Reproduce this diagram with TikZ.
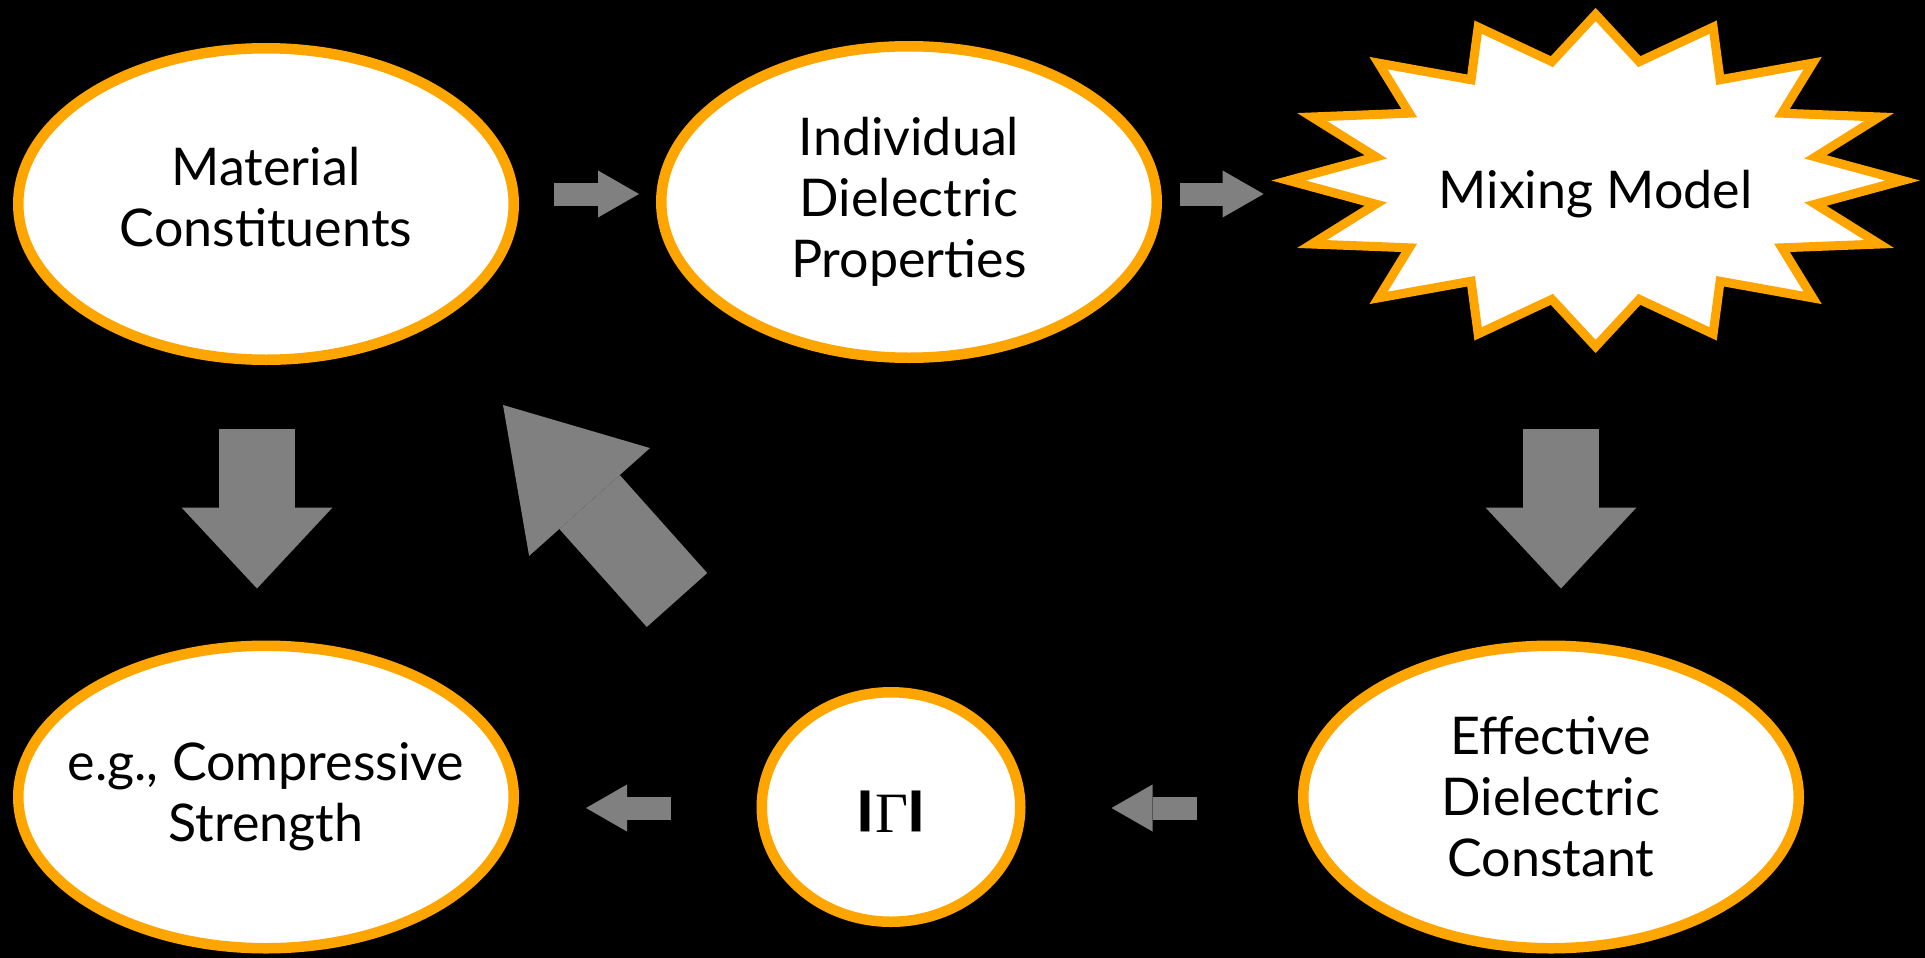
\documentclass[tikz,border=0pt]{standalone}
\usepackage{fontspec}
\setmainfont{Lato}
\newfontfamily\gfont{Liberation Serif}
\usetikzlibrary{shapes.geometric,arrows.meta,calc}
\definecolor{orng}{HTML}{FFA500}
\definecolor{arrgray}{HTML}{808080}
\newsavebox\barbox
\newcommand{\thickbar}{\sbox\barbox{\resizebox*{24pt}{41pt}{\bfseries|}}\raisebox{\dp\barbox}{\usebox\barbox}}
\tikzset{
  bub/.style={ellipse, draw=orng, line width=10.5pt, fill=white, inner ysep=0pt,
    inner xsep=-40pt, align=center, font=\fontsize{52pt}{61pt}\selectfont},
  bigbub/.style={bub, minimum width=495.5pt, minimum height=311.5pt},
  lowbub/.style={bub, minimum width=495.5pt, minimum height=302.5pt},
  smallblk/.style={draw=arrgray, line width=23pt,
    -{Triangle[length=41pt,width=47pt,line width=0pt]}},
  midblk/.style={draw=arrgray, line width=76pt,
    -{Triangle[length=81pt,width=151pt,line width=0pt]}},
  diagblk/.style={draw=arrgray, line width=81pt,
    -{Triangle[length=130pt,width=162pt,line width=0pt]}},
  starline/.style={draw=orng, line width=9pt, fill=white, miter limit=20}
}
\begin{document}
\begin{tikzpicture}[x=1pt,y=-1pt]
\fill[black] (0,0) rectangle (1925,958);
\useasboundingbox (0,0) rectangle (1925,958);

% starburst outline
\path[starline] ({1595.6+307*cos(90)},{180.5+166*sin(90)})
  \foreach \k in {0,...,14}{
    -- ({1595.6+0.73*307*cos(101.25+22.5*\k)},{180.5+0.73*166*sin(101.25+22.5*\k)})
    -- ({1595.6+307*cos(112.5+22.5*\k)},{180.5+166*sin(112.5+22.5*\k)})
  }
  -- ({1595.6+0.73*307*cos(101.25+22.5*15)},{180.5+0.73*166*sin(101.25+22.5*15)})
  -- cycle;

\node[bigbub, text depth=14pt] (e1) at (266,204) {Material\\Constituents};
\node[bigbub] (e2) at (909,202) {Individual\\Dielectric\\Properties};
\node[ellipse, minimum width=652pt, minimum height=324pt, inner sep=0pt, outer sep=0pt,
  font=\fontsize{52pt}{61pt}\selectfont] (mix) at (1595.6,194) {Mixing Model};
\node[lowbub] (e4) at (266,797) {e.g., Compressive\\Strength};
\node[bub, minimum width=258.5pt, minimum height=229.5pt, text height=50pt, text depth=0pt,
  font=\fontsize{57pt}{57pt}\selectfont] (gam) at (891,807)
  {\thickbar\hspace{-2pt}{\gfont Γ}\hspace{-4pt}\thickbar};
\node[lowbub] (e6) at (1551,797) {Effective\\Dielectric\\Constant};

% block-arrow connectors
\draw[smallblk] ($(e1.east)+(35,-10)$) -- ($(e2.west)+(-17,-8)$);
\draw[smallblk] ($(e2.east)+(18,-8)$) -- ($(mix.west)+(-6,0)$);
\draw[midblk] ($(e1.south)+(-9,64)$) -- ($(e4.north)+(-9,-52)$);
\draw[midblk] ($(mix.south)+(-34.6,73)$) -- ($(e6.north)+(10,-52)$);
\draw[smallblk] ($(e6.west)+(-101,11)$) -- ($(gam.east)+(86,1)$);
\draw[smallblk] ($(gam.west)+(-86,1)$) -- ($(e4.east)+(67,11)$);
\draw[diagblk] ($(gam.center)+(-214,-207)$) -- ($(e1.center)+(237,201)$);
\end{tikzpicture}
\end{document}
